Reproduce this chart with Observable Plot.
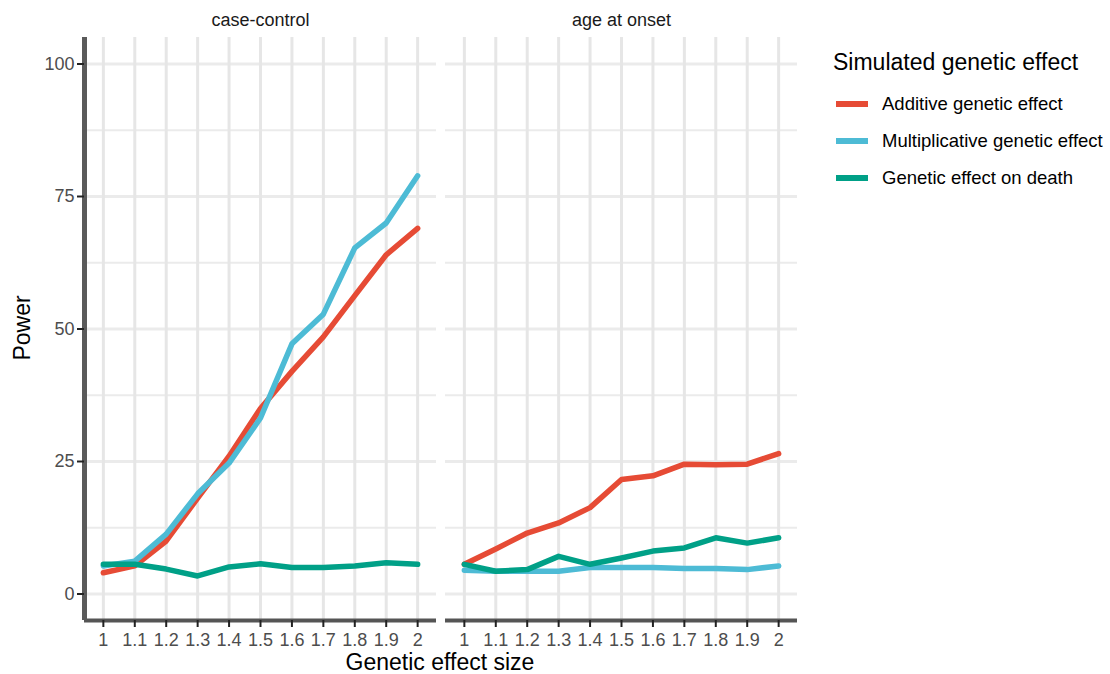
<!DOCTYPE html>
<html>
<head>
<meta charset="utf-8">
<script src="https://cdn.jsdelivr.net/npm/d3@7"></script>
<script src="https://cdn.jsdelivr.net/npm/@observablehq/plot@0.6"></script>
<style>
  html, body { margin: 0; padding: 0; background: #fff; }
  #wrap { position: relative; width: 1110px; height: 674px; font-family: "Liberation Sans", Arial, Helvetica, sans-serif; overflow: hidden; }
  #wrap svg { position: absolute; left: 0; top: 0; }
  .ytitle { position: absolute; left: 22px; top: 328px; transform: translate(-50%, -50%) rotate(-90deg); font-size: 23px; color: #000; white-space: nowrap; }
  .xtitle { position: absolute; left: 440px; top: 662px; transform: translate(-50%, -50%); font-size: 23px; color: #000; white-space: nowrap; }
  .legend { position: absolute; left: 833px; top: 47px; }
  .legend .title { font-size: 23px; color: #000; line-height: 30px; white-space: nowrap; }
  .legend .item { position: relative; height: 37px; }
  .legend .sw { position: absolute; left: 3px; top: -3px; width: 32px; height: 6px; }
  .legend .lab { position: absolute; left: 49px; top: -12px; font-size: 18.5px; line-height: 24px; color: #000; white-space: nowrap; }
</style>
</head>
<body>
<div id="wrap"></div>
<script>
// ---- data ----
const effectSizes = [1, 1.1, 1.2, 1.3, 1.4, 1.5, 1.6, 1.7, 1.8, 1.9, 2];
const panels = ["case-control", "age at onset"];
const seriesNames = ["Additive genetic effect", "Multiplicative genetic effect", "Genetic effect on death"];
const seriesColors = ["#E64B35", "#4DBBD5", "#00A087"];
const yTicks = [0, 25, 50, 75, 100];
const yMinor = [12.5, 37.5, 62.5, 87.5];

// case-control panel
const ccAdditive       = [4.0, 5.3, 10.0, 18.1, 26.0, 35.0, 42.0, 48.5, 56.3, 64.0, 69.0];
const ccMultiplicative = [5.3, 6.2, 11.3, 18.9, 24.7, 33.2, 47.2, 52.8, 65.3, 70.0, 78.9];
const ccDeath          = [5.6, 5.6, 4.7, 3.4, 5.1, 5.7, 5.0, 5.0, 5.3, 5.9, 5.6];
// age at onset panel
const aoAdditive       = [5.6, 8.5, 11.5, 13.4, 16.3, 21.6, 22.3, 24.5, 24.4, 24.5, 26.5];
const aoMultiplicative = [4.5, 4.3, 4.3, 4.3, 5.0, 5.0, 5.0, 4.8, 4.8, 4.6, 5.3];
const aoDeath          = [5.6, 4.3, 4.6, 7.1, 5.6, 6.8, 8.1, 8.7, 10.6, 9.6, 10.6];

const panelValues = [
  [ccAdditive, ccMultiplicative, ccDeath],
  [aoAdditive, aoMultiplicative, aoDeath]
];

const rows = [];
panels.forEach((p, pi) => seriesNames.forEach((s, si) => effectSizes.forEach((x, i) => {
  rows.push({panel: p, series: s, x, y: panelValues[pi][si][i]});
})));

const xDomain = [0.94, 2.06];
const yDomain = [-5, 105];

const chart = Plot.plot({
  width: 1110,
  height: 674,
  marginTop: 37,
  marginBottom: 54,
  marginLeft: 84,
  marginRight: 313,
  style: {fontFamily: '"Liberation Sans", Arial, Helvetica, sans-serif', background: "transparent", overflow: "visible"},
  fx: {domain: panels, paddingInner: 9 / 361, paddingOuter: 0, axis: null, label: null},
  x: {domain: xDomain, axis: null},
  y: {domain: yDomain, axis: null},
  color: {domain: seriesNames, range: seriesColors},
  marks: [
    Plot.gridY(yMinor, {stroke: "#ebebeb", strokeOpacity: 1, strokeWidth: 2}),
    Plot.gridY(yTicks, {stroke: "#ebebeb", strokeOpacity: 1, strokeWidth: 3}),
    Plot.gridX(effectSizes, {stroke: "#e6e6e6", strokeOpacity: 1, strokeWidth: 3}),
    Plot.line(rows, {fx: "panel", x: "x", y: "y", z: "series", stroke: "series", strokeWidth: 5.5, strokeLinejoin: "round"}),
    Plot.ruleY(panels.map(p => ({panel: p, y: yDomain[0]})), {fx: "panel", y: "y", stroke: "#555", strokeWidth: 4}),
    Plot.ruleX([{panel: panels[0], x: xDomain[0]}], {fx: "panel", x: "x", y1: yDomain[0], y2: yDomain[1], stroke: "#5a5a5a", strokeWidth: 5}),
    Plot.axisX(effectSizes, {tickSize: 7, tickPadding: 6, tickFormat: d => String(d), fontSize: 18, fill: "#4d4d4d", stroke: "#222", strokeWidth: 2, label: null}),
    Plot.axisY(yTicks, {tickSize: 7, tickPadding: 3, fontSize: 18, fill: "#4d4d4d", stroke: "#222", strokeWidth: 2, label: null}),
    Plot.text(panels, {fx: d => d, text: d => d, frameAnchor: "top", lineAnchor: "middle", dy: -17, fontSize: 18, fill: "#1a1a1a"})
  ]
});

const wrap = document.getElementById("wrap");
wrap.appendChild(chart);

const yt = document.createElement("div");
yt.className = "ytitle"; yt.textContent = "Power"; wrap.appendChild(yt);
const xt = document.createElement("div");
xt.className = "xtitle"; xt.textContent = "Genetic effect size"; wrap.appendChild(xt);

const lg = document.createElement("div");
lg.className = "legend";
const lt = document.createElement("div");
lt.className = "title"; lt.textContent = "Simulated genetic effect";
lg.appendChild(lt);
const spacer = document.createElement("div"); spacer.style.height = "27px"; lg.appendChild(spacer);
seriesNames.forEach((s, i) => {
  const it = document.createElement("div"); it.className = "item";
  const sw = document.createElement("div"); sw.className = "sw"; sw.style.background = seriesColors[i];
  const lb = document.createElement("div"); lb.className = "lab"; lb.textContent = s;
  it.appendChild(sw); it.appendChild(lb); lg.appendChild(it);
});
wrap.appendChild(lg);
</script>
</body>
</html>
